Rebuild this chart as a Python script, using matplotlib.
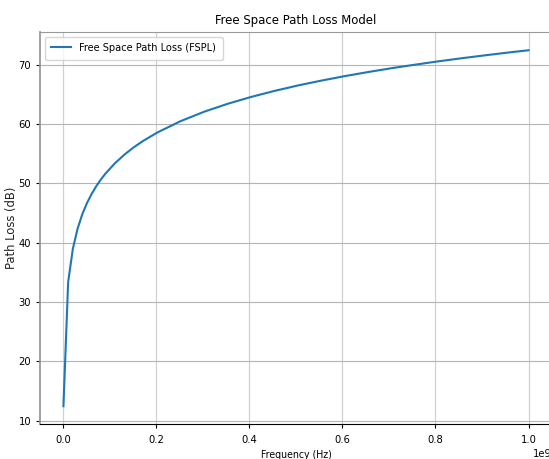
import matplotlib
matplotlib.use('Agg')
import matplotlib.pyplot as plt
import numpy as np

plt.rcParams['font.family'] = 'DejaVu Sans'
plt.rcParams['font.stretch'] = 'condensed'

# Frequency sample points (GHz) and path loss
freq_ghz = [0.001, 0.0111, 0.0212, 0.0313, 0.0414, 0.0515, 0.0616, 0.0717, 0.0818,
            0.0918, 0.112, 0.132, 0.152, 0.173, 0.203, 0.253, 0.304, 0.354, 0.405,
            0.455, 0.505, 0.556, 0.606, 0.657, 0.707, 0.758, 0.808, 0.859, 0.909,
            0.960, 1.0]
path_loss_db = [12.45, 33.36, 38.98, 42.36, 44.79, 46.69, 48.24, 49.56, 50.71,
                51.71, 53.43, 54.86, 56.09, 57.21, 58.60, 60.51, 62.11, 63.43, 64.60,
                65.61, 66.52, 67.35, 68.10, 68.80, 69.44, 70.04, 70.60, 71.13, 71.62,
                72.10, 72.45]

freq_hz = np.array(freq_ghz) * 1e9

fig = plt.figure(figsize=(5.49, 4.59), dpi=100)
ax = fig.add_axes([0.0732, 0.0763, 0.932, 0.853])
ax.plot(freq_hz, path_loss_db, color='#1f77b4', linewidth=1.5, label='Free Space Path Loss (FSPL)')
ax.set_title('Free Space Path Loss Model', fontsize=9.4, pad=6)
ax.set_xlabel('Frequency (Hz)', fontsize=7.6, labelpad=3.5)
ax.set_ylabel('Path Loss (dB)', fontsize=9.3, labelpad=0.5, color='#222222')
ax.tick_params(labelsize=8, length=3)
ax.tick_params(axis='x', pad=5)
ax.xaxis.get_offset_text().set_fontsize(8)
ax.grid(True, axis='y', color='#b4b4b4', linewidth=0.8)
ax.grid(True, axis='x', color='#d0d0d0', linewidth=0.9)
ax.legend(loc='upper left', fontsize=7.8, borderaxespad=0.4, borderpad=0.6, handlelength=1.8)
ax.spines['left'].set_color('#999999')
ax.spines['left'].set_linewidth(1.3)
ax.spines['top'].set_color('#999999')
ax.spines['right'].set_visible(False)
ax.spines['bottom'].set_color('black')

fig.savefig('out.png', dpi=100)
